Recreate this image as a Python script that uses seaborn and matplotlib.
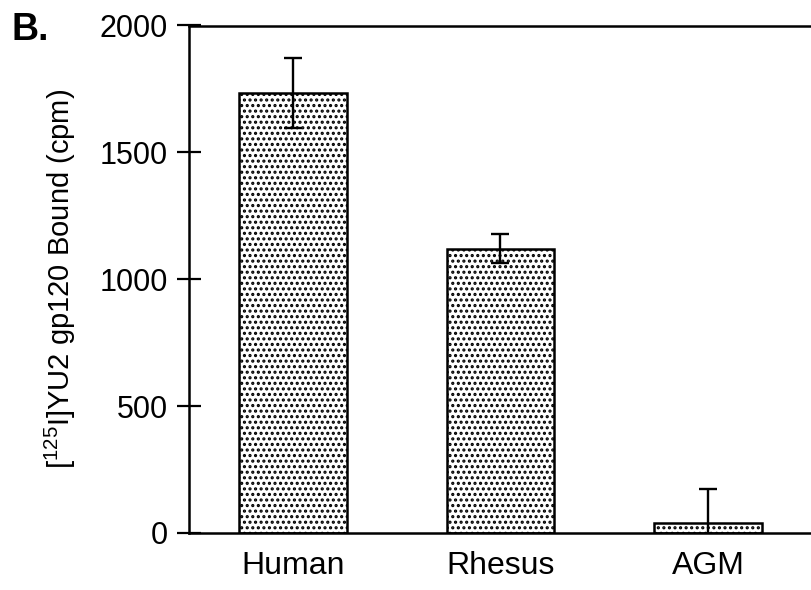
import matplotlib
matplotlib.use("Agg")
import matplotlib.pyplot as plt
import seaborn as sns
import pandas as pd

# Binding of iodinated YU2 gp120 to cells from three primate species
species = ["Human", "Rhesus", "AGM"]
bound_cpm = [1735, 1120, 40]
sem_cpm = [138, 57, 135]
y_ticks = [0, 500, 1000, 1500, 2000]

sns.set_theme(style="ticks")
plt.rcParams["font.family"] = ["Liberation Sans", "DejaVu Sans"]
plt.rcParams["mathtext.fontset"] = "custom"
plt.rcParams["mathtext.rm"] = "Liberation Sans"
plt.rcParams["mathtext.it"] = "Liberation Sans"
plt.rcParams["hatch.linewidth"] = 1.5
plt.rcParams["hatch.color"] = "black"

df = pd.DataFrame({"species": species, "cpm": bound_cpm})

fig = plt.figure(figsize=(8.12, 5.90), dpi=100)
ax = fig.add_axes([189 / 812, 57 / 590, 1 - 189 / 812, (533.5 - 26) / 590])

sns.barplot(data=df, x="species", y="cpm", order=species, ax=ax,
            width=0.52, color="white", edgecolor="black", linewidth=1.8,
            errorbar=None, hatch="...")

ax.errorbar(range(len(species)), bound_cpm, yerr=sem_cpm, fmt="none",
            ecolor="black", elinewidth=1.7, capsize=6.5, capthick=1.7,
            zorder=5)

ax.set_xlim(-0.5, 2.5)
ax.set_ylim(0, 2000)
ax.set_yticks(y_ticks)
ax.set_yticklabels([str(t) for t in y_ticks])

ax.tick_params(axis="y", direction="inout", length=17, width=1.6,
               labelsize=22, pad=6.5, colors="black")
ax.tick_params(axis="x", length=0, labelsize=23, pad=13, colors="black")

for side in ["left", "bottom", "top"]:
    ax.spines[side].set_visible(True)
    ax.spines[side].set_linewidth(1.8)
    ax.spines[side].set_color("black")
ax.spines["right"].set_visible(False)

ax.set_xlabel("")
ax.set_ylabel(r"[$^{125}$I]YU2 gp120 Bound (cpm)", fontsize=21,
              labelpad=16, color="black")

fig.text(12 / 812, 1 - 40 / 590, "B.", fontsize=27, fontweight="bold",
         color="black")

fig.savefig("out.png", dpi=100)
